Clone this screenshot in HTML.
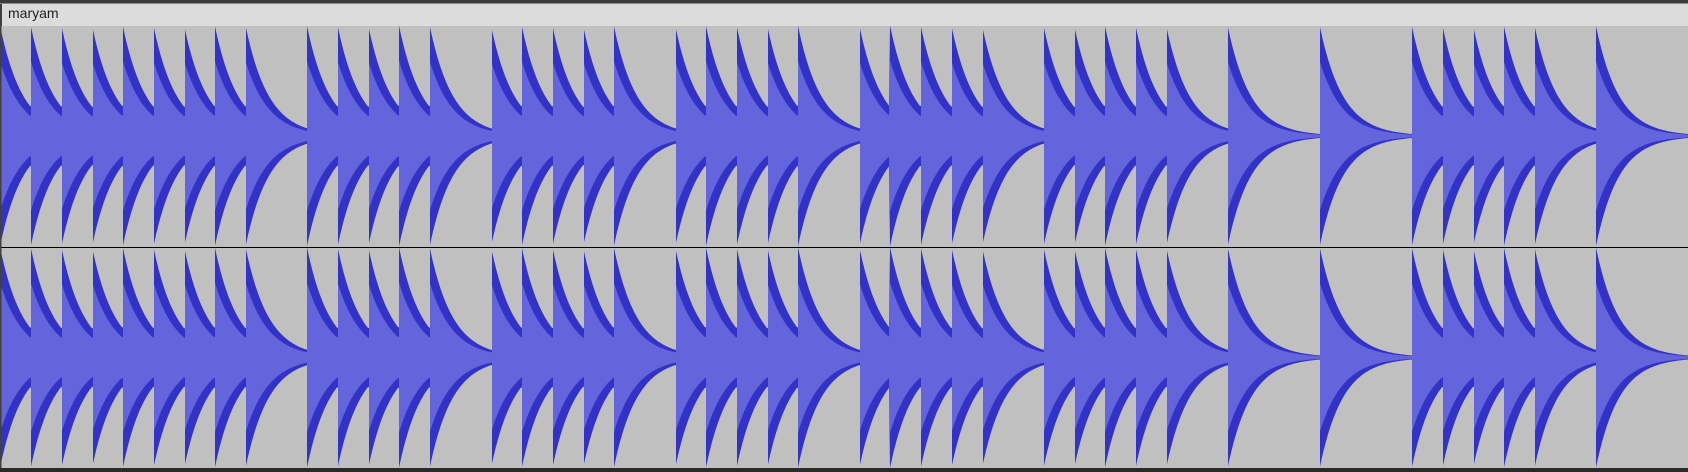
<!DOCTYPE html>
<html><head><meta charset="utf-8"><style>
html,body{margin:0;padding:0;background:#c0c0c0;}
#wrap{position:relative;width:1688px;height:472px;overflow:hidden;background:#c0c0c0;}
#topborder{position:absolute;left:0;top:0;width:1688px;height:4px;background:#3c3c3c;border-bottom:1px solid #8a8a8a;box-sizing:border-box;}
#titlebar{position:absolute;left:0;top:4px;width:1688px;height:22px;background:#dcdcdc;border-left:2px solid #404040;box-sizing:border-box;}
#title{position:absolute;left:8px;top:5px;font:14px "Liberation Sans",sans-serif;color:#222;}
svg{position:absolute;left:0;top:0;}
</style></head><body>
<div id="wrap">
<div id="topborder"></div>
<div id="titlebar"></div>
<div id="title">maryam</div>
<svg id="wave" width="1688" height="472"></svg>
</div>
<script>
// note onsets in beats, and peak amplitudes (fraction of full scale)
const noteStarts = [0,1,2,3,4,5,6,7,8,10,11,12,13,14,16,17,18,19,20,22,23,24,25,26,28,29,30,31,32,34,35,36,37,38,40,43,46,47,48,49,50,52];
const noteAmps = noteStarts.map(()=>1.0);
const channelNames = ['left','right'];

const W = 1688, beatW = 30.69;
const top0 = 26, mid = 247, bottom = 468;
const channels = [{c:(top0+mid)/2 - 0.5, h:(mid-top0)/2}, {c:(mid+bottom)/2, h:(bottom-mid)/2}];
const tau = 23;
function xScale(b){return b*beatW;}
function peakAt(x){
  let idx=-1;
  for(let i=0;i<noteStarts.length;i++){ if(xScale(noteStarts[i])<=x+0.01) idx=i; }
  if(idx<0) return 0;
  const t = x - xScale(noteStarts[idx]);
  return noteAmps[idx]*Math.exp(-t/tau);
}
const svg = document.getElementById('wave');
const NS='http://www.w3.org/2000/svg';
function envPath(ch, ratio){
  let up=[], dn=[];
  for(let x=0;x<=W;x++){
    const a = Math.min(1,peakAt(x))*ch.h*ratio;
    up.push([x, ch.c - a]); dn.push([x, ch.c + a]);
    // vertical jump at onsets
    const a2 = Math.min(1,peakAt(x+0.999))*ch.h*ratio;
    if(a2>a+1){ up.push([x+0.999, ch.c - a]); dn.push([x+0.999, ch.c + a]); }
  }
  let d='M'+up.map(p=>p[0].toFixed(2)+','+p[1].toFixed(2)).join('L');
  d+='L'+dn.reverse().map(p=>p[0].toFixed(2)+','+p[1].toFixed(2)).join('L')+'Z';
  return d;
}
channels.forEach((ch,i)=>{
  const g=document.createElementNS(NS,'g');
  
  
  const peak=document.createElementNS(NS,'path');
  peak.setAttribute('d',envPath(ch,1));
  peak.setAttribute('fill','#3232c8');
  
  
  const rms=document.createElementNS(NS,'path');
  rms.setAttribute('d',envPath(ch,0.68));
  rms.setAttribute('fill','#6464dc');
  
  
  g.appendChild(peak); g.appendChild(rms);
  svg.appendChild(g);
});
const line=document.createElementNS(NS,'line');
line.setAttribute('x1',0);line.setAttribute('x2',W);line.setAttribute('y1',mid+0.5);line.setAttribute('y2',mid+0.5);
line.setAttribute('stroke','#000');line.setAttribute('stroke-width',1);


svg.appendChild(line);
const bl=document.createElementNS(NS,'rect');
bl.setAttribute('x',0);bl.setAttribute('y',bottom);bl.setAttribute('width',W);bl.setAttribute('height',472-bottom);bl.setAttribute('fill','#2a2a2a');


svg.appendChild(bl);
const ll=document.createElementNS(NS,'rect');
ll.setAttribute('x',0);ll.setAttribute('y',top0);ll.setAttribute('width',1.5);ll.setAttribute('height',bottom-top0);ll.setAttribute('fill','#404040');


svg.appendChild(ll);
</script>
</body></html>
